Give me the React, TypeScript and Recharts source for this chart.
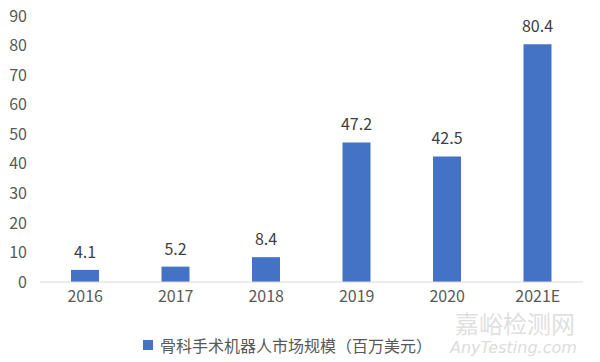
import { BarChart, Bar, XAxis, YAxis, Legend, LabelList } from 'recharts'

// 骨科手术机器人市场规模（百万美元）
const YEARS = ['2016', '2017', '2018', '2019', '2020', '2021E']
const MARKET = [4.1, 5.2, 8.4, 47.2, 42.5, 80.4]
const Y_TICKS = [0, 10, 20, 30, 40, 50, 60, 70, 80, 90]
const SERIES_NAME = '骨科手术机器人市场规模（百万美元）'

const data = YEARS.map((year, i) => ({ year, value: MARKET[i] }))

const FONT = '"Noto Sans CJK SC", "Noto Sans", sans-serif'
const BLUE = '#4472C4'

function LegendContent() {
  return (
    <div style={{ display: 'flex', alignItems: 'center', marginLeft: 143, fontFamily: FONT }}>
      <span style={{ width: 10, height: 10, background: BLUE, display: 'inline-block', marginRight: 7 }} />
      <span style={{ fontSize: 16, color: '#595959' }}>{SERIES_NAME}</span>
    </div>
  )
}

export default function App() {
  return (
    <div style={{ position: 'absolute', left: 0, top: 0, width: 600, height: 362, background: '#fff', fontFamily: FONT }}>
      <BarChart width={600} height={362} data={data} margin={{ top: 16, right: 17, left: 0, bottom: 50 }}>
        <XAxis
          dataKey="year"
          height={30}
          tickLine={false}
          tickMargin={3}
          axisLine={{ stroke: '#d9d9d9' }}
          tick={{ fontSize: 16, fill: '#595959', fontFamily: FONT }}
        />
        <YAxis
          width={40}
          domain={[0, 90]}
          ticks={Y_TICKS}
          axisLine={false}
          tickLine={false}
          tickMargin={7}
          tick={{ fontSize: 16, fill: '#595959', fontFamily: FONT }}
        />
        <Legend
          verticalAlign="middle"
          align="center"
          content={<LegendContent />}
          wrapperStyle={{ top: 333, left: 0, width: 600 }}
        />
        <Bar dataKey="value" name={SERIES_NAME} fill={BLUE} barSize={28} isAnimationActive={false}>
          <LabelList dataKey="value" position="top" offset={12} style={{ fontSize: 16, fill: '#404040', fontFamily: FONT }} />
        </Bar>
      </BarChart>
      <div style={{ position: 'absolute', left: 455, top: 311, fontSize: 24, color: '#e0e0e0', lineHeight: 1 }}>
        嘉峪检测网
      </div>
      <div style={{ position: 'absolute', left: 450, top: 340, fontSize: 16, color: '#dcdcdc', fontStyle: 'italic', fontFamily: '"DejaVu Sans", sans-serif', lineHeight: 1 }}>
        AnyTesting.com
      </div>
    </div>
  )
}
